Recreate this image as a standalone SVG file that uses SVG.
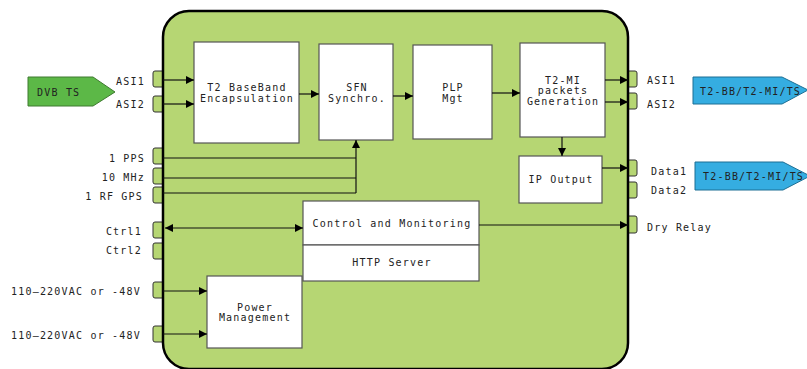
<svg xmlns="http://www.w3.org/2000/svg" width="807" height="369" viewBox="0 0 807 369">
<defs>
<marker id="ah" viewBox="0 0 10 10" refX="10" refY="5" markerWidth="10" markerHeight="8" markerUnits="userSpaceOnUse" orient="auto-start-reverse"><path d="M0,0 L10,5 L0,10 Z" fill="#000"/></marker>
<style>
text{font-family:"DejaVu Sans Mono","Liberation Mono",monospace;font-size:10px;letter-spacing:1.2px;fill:#222}
.c{text-anchor:middle}
.e{text-anchor:end}
.box{fill:#fff;stroke:#555;stroke-width:1.2}
.tab{fill:#b6d673;stroke:#333;stroke-width:1}
.ln{fill:none;stroke:#111;stroke-width:1.2}
.ar{fill:none;stroke:#111;stroke-width:1.2;marker-end:url(#ah)}
</style>
</defs>
<g id="tabs">
<rect class="tab" x="153" y="71" width="12" height="16" rx="2"/>
<rect class="tab" x="153" y="96" width="12" height="16" rx="2"/>
<rect class="tab" x="153" y="148" width="12" height="16" rx="2"/>
<rect class="tab" x="153" y="168" width="12" height="16" rx="2"/>
<rect class="tab" x="153" y="187" width="12" height="16" rx="2"/>
<rect class="tab" x="153" y="222" width="12" height="16" rx="2"/>
<rect class="tab" x="153" y="243" width="12" height="16" rx="2"/>
<rect class="tab" x="153" y="282" width="12" height="16" rx="2"/>
<rect class="tab" x="153" y="326" width="12" height="16" rx="2"/>
<rect class="tab" x="626" y="71" width="11" height="16" rx="2"/>
<rect class="tab" x="626" y="93" width="11" height="16" rx="2"/>
<rect class="tab" x="626" y="160" width="11" height="16" rx="2"/>
<rect class="tab" x="626" y="182" width="11" height="16" rx="2"/>
<rect class="tab" x="626" y="216" width="11" height="17" rx="2"/>
</g>
<g id="main">
<rect x="163" y="11" width="465" height="358" rx="26" fill="#b6d673" stroke="#000" stroke-width="2.5"/>
</g>
<g id="dvbts">
<path d="M28,77 L93,77 L115,92 L93,106 L28,106 Z" fill="#5cb847" stroke="#3f7a30" stroke-width="1"/>
<text x="37" y="96">DVB TS</text>
</g>
<g id="out1">
<path d="M693,77 L782,77 L808,90 L782,104 L693,104 Z" fill="#35ade1" stroke="#1d6f94" stroke-width="1"/>
<text x="700" y="95">T2-BB/T2-MI/TS</text>
</g>
<g id="out2">
<path d="M695,162 L783,162 L810,176 L783,190 L695,190 Z" fill="#35ade1" stroke="#1d6f94" stroke-width="1"/>
<text x="703" y="180">T2-BB/T2-MI/TS</text>
</g>
<g id="t2bb"><rect class="box" x="194" y="42" width="105" height="101"/><text class="c" x="247" y="91">T2 BaseBand</text><text class="c" x="247" y="102">Encapsulation</text></g>
<g id="sfn"><rect class="box" x="319" y="44" width="74" height="96"/><text class="c" x="357" y="91">SFN</text><text class="c" x="357" y="102">Synchro.</text></g>
<g id="plp"><rect class="box" x="413" y="45" width="79" height="94"/><text class="c" x="453" y="91">PLP</text><text class="c" x="453" y="102">Mgt</text></g>
<g id="t2mi"><rect class="box" x="520" y="43" width="85" height="94"/><text class="c" x="563" y="84">T2-MI</text><text class="c" x="563" y="94">packets</text><text class="c" x="563" y="105">Generation</text></g>
<g id="ipout"><rect class="box" x="519" y="156" width="83" height="47"/><text class="c" x="561" y="183">IP Output</text></g>
<g id="ctrl"><rect class="box" x="303" y="201" width="176" height="44"/><text class="c" x="392" y="227">Control and Monitoring</text></g>
<g id="http"><rect class="box" x="303" y="245" width="176" height="36"/><text class="c" x="392" y="266">HTTP Server</text></g>
<g id="power"><rect class="box" x="207" y="276" width="95" height="72"/><text class="c" x="255" y="311">Power</text><text class="c" x="255" y="321">Management</text></g>
<g id="connectors">
<line class="ar" x1="163" y1="80" x2="194" y2="80"/>
<line class="ar" x1="163" y1="104" x2="194" y2="104"/>
<line class="ar" x1="299" y1="94" x2="319" y2="94"/>
<line class="ar" x1="393" y1="96" x2="413" y2="96"/>
<line class="ar" x1="492" y1="93" x2="520" y2="93"/>
<line class="ar" x1="605" y1="80" x2="628" y2="80"/>
<line class="ar" x1="605" y1="102" x2="628" y2="102"/>
<line class="ar" x1="562" y1="137" x2="562" y2="156"/>
<line class="ar" x1="602" y1="168" x2="628" y2="168"/>
<line class="ln" x1="163" y1="158" x2="356" y2="158"/>
<line class="ln" x1="163" y1="178" x2="356" y2="178"/>
<line class="ln" x1="163" y1="193" x2="356" y2="193"/>
<line class="ar" x1="356" y1="193" x2="356" y2="140"/>
<line class="ar" x1="165" y1="228" x2="303" y2="228" style="marker-start:url(#ah)"/>
<line class="ar" x1="479" y1="225" x2="628" y2="225"/>
<line class="ar" x1="163" y1="291" x2="207" y2="291"/>
<line class="ar" x1="163" y1="334" x2="207" y2="334"/>
</g>
<g id="labels">
<text class="e" x="145" y="85">ASI1</text>
<text class="e" x="145" y="108">ASI2</text>
<text class="e" x="145" y="162">1 PPS</text>
<text class="e" x="145" y="181">10 MHz</text>
<text class="e" x="143" y="200">1 RF GPS</text>
<text class="e" x="142" y="235">Ctrl1</text>
<text class="e" x="142" y="254">Ctrl2</text>
<text class="e" x="141" y="295">110–220VAC or -48V</text>
<text class="e" x="141" y="339">110–220VAC or -48V</text>
<text x="647" y="84">ASI1</text>
<text x="647" y="108">ASI2</text>
<text x="651" y="175">Data1</text>
<text x="651" y="194">Data2</text>
<text x="647" y="231">Dry Relay</text>
</g>
</svg>
